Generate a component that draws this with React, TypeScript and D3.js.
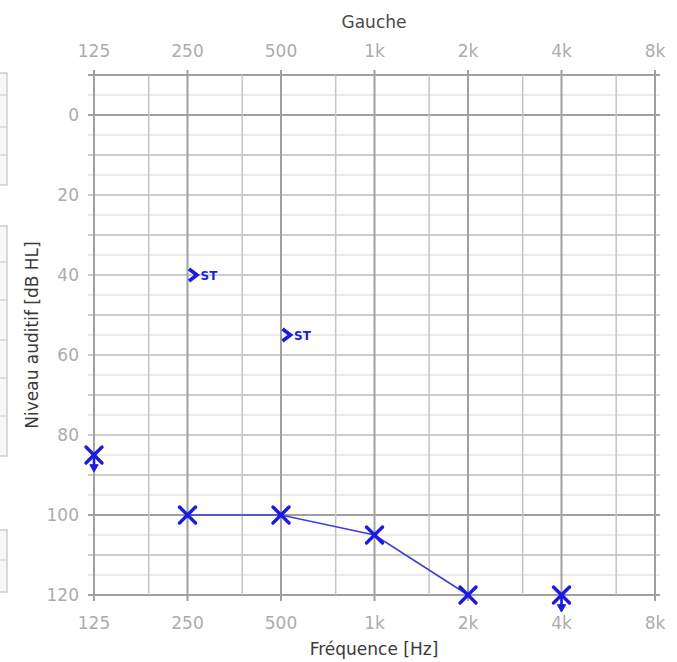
import React from "react";
import * as d3 from "d3";

// fréquences et étiquettes
const freqs = [125, 250, 500, 1000, 2000, 4000, 8000];
const freqLabels = ["125", "250", "500", "1k", "2k", "4k", "8k"];
const halfOctaves = [187.5, 375, 750, 1500, 3000, 6000];
const dbTicks = [0, 20, 40, 60, 80, 100, 120];

// conduction aérienne (gauche)
const airFreqs = [125, 250, 500, 1000, 2000, 4000];
const airLevels = [85, 100, 100, 105, 120, 120];
const airNoResponse = [true, false, false, false, false, true];

// conduction osseuse
const boneFreqs = [250, 500];
const boneLevels = [40, 55];
const boneTag = "ST";

// bouts de tableau coupés à gauche
const sideBoxes = [
  [73, 95, 127, 155, 185],
  [226, 262, 300, 340, 378, 416, 456],
  [530, 560, 592],
];

const W = 677;
const H = 662;
const FONT = "'DejaVu Sans', Verdana, sans-serif";
const BLUE = "#1c1ce0";

const App = () => {
  const x = d3.scaleLog().base(2).domain([125, 8000]).range([94, 655]);
  const y = d3.scaleLinear().domain([-10, 120]).range([75, 595]);

  const hLines = d3.range(-10, 121, 5);

  const pts = airFreqs.map((f, i) => ({ f, db: airLevels[i], nr: airNoResponse[i] }));
  const line = d3
    .line<any>()
    .defined((d) => !d.nr)
    .x((d) => x(d.f))
    .y((d) => y(d.db));

  const hStyle = (v: number) => {
    if (v === -10 || v === 0 || v === 100 || v === 120) return { s: "#a0a0a0", w: 2 };
    if (v % 10 === 0) return { s: "#bcbcbc", w: 1.5 };
    return { s: "#d8d8d8", w: 1.2 };
  };

  return (
    <div style={{ position: "absolute", left: 0, top: 0 }}>
      <svg width={W} height={H} style={{ display: "block", background: "#fff" }}>
        {/* tableaux coupés */}
        {sideBoxes.map((b, i) => (
          <g key={i}>
            <rect x={-10} y={b[0]} width={17} height={b[b.length - 1] - b[0]} fill="#f7f7f7" stroke="#b8b8b8" />
            {b.slice(1, -1).map((v) => (
              <line key={v} x1={-10} x2={7} y1={v} y2={v} stroke="#c8c8c8" />
            ))}
          </g>
        ))}

        {/* grille horizontale */}
        {hLines.map((v) => {
          const st = hStyle(v);
          return (
            <line key={v} x1={88} x2={660} y1={y(v)} y2={y(v)} stroke={st.s} strokeWidth={st.w} />
          );
        })}

        {/* grille verticale */}
        {halfOctaves.map((f) => (
          <line key={f} x1={x(f)} x2={x(f)} y1={y(-10)} y2={y(120)} stroke="#c4c4c4" strokeWidth={1.5} />
        ))}
        {freqs.map((f) => (
          <line key={f} x1={x(f)} x2={x(f)} y1={70} y2={601} stroke="#a0a0a0" strokeWidth={2} />
        ))}

        {/* étiquettes des fréquences */}
        {freqs.map((f, i) => (
          <g key={f} fontFamily={FONT} fontSize={17} fill="#acacac" textAnchor="middle">
            <text x={x(f)} y={57}>{freqLabels[i]}</text>
            <text x={x(f)} y={629}>{freqLabels[i]}</text>
          </g>
        ))}

        {/* étiquettes dB */}
        {dbTicks.map((v) => (
          <text
            key={v}
            x={79}
            y={y(v)}
            dy="0.36em"
            textAnchor="end"
            fontFamily={FONT}
            fontSize={17}
            fill="#acacac"
          >
            {v}
          </text>
        ))}

        {/* titres */}
        <text x={374} y={28} textAnchor="middle" fontFamily={FONT} fontSize={17} fill="#4a4a4a">
          Gauche
        </text>
        <text x={374} y={655} textAnchor="middle" fontFamily={FONT} fontSize={17} fill="#3a3a3a">
          Fréquence [Hz]
        </text>
        <text
          transform={`translate(38,${(y(-10) + y(120)) / 2}) rotate(-90)`}
          textAnchor="middle"
          fontFamily={FONT}
          fontSize={17}
          fill="#3a3a3a"
        >
          Niveau auditif [dB HL]
        </text>

        {/* courbe */}
        <path d={line(pts) || ""} fill="none" stroke="#4040cc" strokeWidth={1.6} />

        {/* croix */}
        {pts.map((d, i) => {
          const cx = x(d.f);
          const cy = y(d.db);
          const s = 8;
          return (
            <g key={i} stroke={BLUE} strokeWidth={3.4} strokeLinecap="round" fill="none">
              <line x1={cx - s} y1={cy - s} x2={cx + s} y2={cy + s} />
              <line x1={cx - s} y1={cy + s} x2={cx + s} y2={cy - s} />
              {d.nr && (
                <g>
                  <line x1={cx} y1={cy} x2={cx} y2={cy + 13} strokeWidth={2.6} />
                  <path
                    d={`M${cx - 4},${cy + 10} L${cx},${cy + 17} L${cx + 4},${cy + 10} Z`}
                    fill={BLUE}
                    strokeWidth={1}
                  />
                </g>
              )}
            </g>
          );
        })}

        {/* conduction osseuse */}
        {boneFreqs.map((f, i) => {
          const cx = x(f);
          const cy = y(boneLevels[i]);
          return (
            <g key={f}>
              <path
                d={`M${cx + 1.5},${cy - 6} L${cx + 9.5},${cy} L${cx + 1.5},${cy + 6}`}
                fill="none"
                stroke={BLUE}
                strokeWidth={3.6}
                strokeLinejoin="miter"
              />
              <text x={cx + 13} y={cy + 4.5} fontFamily={FONT} fontSize={12} fontWeight="bold" fill={BLUE}>
                {boneTag}
              </text>
            </g>
          );
        })}
      </svg>
    </div>
  );
};

export default App;
